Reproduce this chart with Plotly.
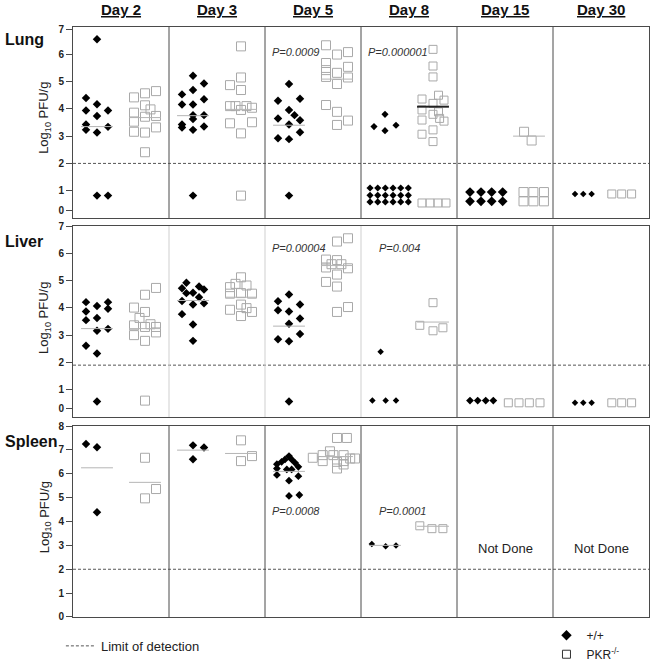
import plotly.graph_objects as go
from plotly.subplots import make_subplots

# ---------------- data ----------------
days = ["Day 2", "Day 3", "Day 5", "Day 8", "Day 15", "Day 30"]
organs = ["Lung", "Liver", "Spleen"]
genotypes = ["+/+", "PKR<sup>-/-</sup>"]

# log10 PFU/g, one list per day (Day 2 .. Day 30)
lung_wt_y = [
    [6.55, 4.40, 4.17, 3.94, 3.94, 3.74, 3.43, 3.23, 3.34, 3.13, 0.82, 0.82],
    [5.21, 4.53, 4.69, 4.93, 4.16, 4.16, 4.35, 3.77, 3.77, 3.43, 3.32, 3.63, 3.23, 3.35, 0.82],
    [4.91, 4.30, 4.37, 3.96, 3.65, 3.77, 3.58, 3.43, 3.14, 2.92, 2.89, 0.82],
    [3.80, 3.35, 3.20, 3.40,
     1.10, 1.10, 1.10, 1.10, 1.10, 1.10,
     0.83, 0.83, 0.83, 0.83, 0.83, 0.83,
     0.59, 0.59, 0.59, 0.59, 0.59, 0.59],
    [0.95, 0.95, 0.95, 0.95, 0.61, 0.61, 0.61, 0.61],
    [0.88, 0.88, 0.88],
]
# horizontal slot of each point inside its group (dot-plot spread)
lung_wt_slot = [
    [0, -1, 0, -1, 1, 0, -1, -1, 1, 0, 0, 1],
    [0, -1, 0, 1, -1, 0, 1, 0, 1, -1, -1, 0, 0, 1, 0],
    [0, -1, 1, 0, -1, 0.5, 1, 0, 1, -1, 0, 0],
    [0, -1, 0, 1,
     -1.36, -0.66, 0.03, 0.73, 1.43, 2.12,
     -1.36, -0.66, 0.03, 0.73, 1.43, 2.12,
     -1.36, -0.66, 0.03, 0.73, 1.43, 2.12],
    [-1, 0, 0.97, 1.97, -1, 0, 0.97, 1.97],
    [-0.18, 0.57, 1.33],
]
lung_ko_y = [
    [4.42, 4.57, 4.65, 4.13, 3.86, 3.98, 3.53, 3.71, 3.74, 3.16, 3.13, 3.32, 2.41],
    [6.29, 4.87, 5.15, 4.69, 4.10, 4.10, 4.10, 4.04, 3.96, 3.47, 3.51, 3.10, 0.82],
    [6.33, 5.99, 6.08, 5.68, 5.42, 5.17, 5.32, 4.91, 5.54, 5.15, 4.14, 3.89, 3.41, 3.57],
    [6.18, 5.57, 5.17, 4.36, 4.50, 4.32, 4.20, 3.96, 3.59, 3.80, 3.89, 3.65, 3.55, 3.07, 3.23, 2.80,
     0.55, 0.55, 0.55, 0.55],
    [3.16, 2.84, 0.95, 0.95, 0.95, 0.61, 0.61, 0.61],
    [0.88, 0.88, 0.88],
]
lung_ko_slot = [
    [-1, 0, 1, 0, -1, 0.5, -1, 0, 1, -1, 0, 1, 0],
    [0, -1, 0, 0, -1, -0.5, 0.5, 1, 0, -1, 1, 0, 0],
    [-1, 0, 1, -1, -1, -1, 0, 0, 1, 1, -1, 0, 0, 1],
    [0, 0, 0, -1, 0.5, 1, 0, -1, -1, 0, 0.5, 0.6, 1, -1, 0, 0,
     -1, -0.27, 0.45, 1.18],
    [-0.45, 0.24, -0.5, 0.4, 1.36, -0.5, 0.4, 1.36],
    [-1.2, -0.3, 0.6],
]
liver_wt_y = [
    [4.21, 4.07, 4.21, 3.87, 3.97, 3.55, 3.63, 3.16, 3.23, 2.61, 2.33, 0.57],
    [4.92, 4.72, 4.54, 4.55, 4.78, 4.67, 4.25, 4.12, 4.39, 4.17, 3.77, 3.39, 2.79],
    [4.49, 4.24, 4.12, 3.91, 3.87, 3.61, 3.42, 2.85, 2.78, 3.04, 0.57],
    [2.39, 0.60, 0.60, 0.60],
    [0.60, 0.60, 0.60, 0.60],
    [0.52, 0.52, 0.52],
]
liver_wt_slot = [
    [-1, 0, 1, -1, 1, -1, 0, 0, 1, -1, 0, 0],
    [-0.6, -1, -0.6, 0, 0.55, 1, -1, 0, 0.55, 1, -1, 0, 0],
    [0, -1, 1, -1, 0, 1, 0, -1, 0, 1, 0],
    [-0.4, -1.15, 0.06, 1.0],
    [-1, -0.3, 0.43, 1.12],
    [-0.18, 0.57, 1.33],
]
liver_ko_y = [
    [4.73, 4.48, 4.01, 3.85, 3.63, 3.36, 3.30, 3.40, 3.30, 3.00, 2.79, 3.10, 0.60],
    [5.12, 4.88, 4.82, 4.76, 4.52, 4.54, 4.52, 4.12, 3.93, 3.99, 3.85, 3.70],
    [6.55, 6.43, 5.77, 5.75, 5.48, 5.60, 5.60, 5.45, 5.22, 4.95, 4.78, 3.85, 4.03],
    [4.19, 3.36, 3.16, 3.27],
    [0.52, 0.52, 0.52, 0.52],
    [0.52, 0.52, 0.52],
]
liver_ko_slot = [
    [1, 0, -1, 0, -0.5, -1, 0, 0.5, 1, -1, 0, 1, 0],
    [0, -0.5, 0.5, -1, -1, 0, 1, 0, -1, 0.5, 1, 0],
    [1, 0, -1, 0, -1, -0.5, 0.4, 1, 0, -1, 0, 0, 1],
    [0, -1.2, 0, 0.9],
    [-1.88, -0.91, 0.03, 1.0],
    [-1.2, -0.3, 0.6],
]
spleen_wt_y = [
    [7.25, 7.11, 4.39],
    [7.19, 7.10, 6.61],
    [6.74, 6.60, 6.60, 6.50, 6.46, 6.40, 6.29, 6.22, 6.18, 6.18, 5.95, 5.90, 5.71, 5.07, 5.11],
    [3.06, 2.96, 2.99],
    [],
    [],
]
spleen_wt_slot = [
    [-1, 0, 0],
    [0, 1, 0],
    [0, -0.36, 0.24, -0.67, 0.55, -1.1, 0.85, -1.1, -0.2, 0.24, -1.1, 0.85, 0, 0, 0.94],
    [-1.2, 0.06, 1.0],
    [],
    [],
]
spleen_ko_y = [
    [6.67, 4.97, 5.36],
    [7.40, 6.53, 6.74],
    [6.67, 6.78, 6.53, 6.94, 6.78, 7.50, 7.50, 6.50, 6.22, 6.78, 6.53, 6.39, 6.64, 6.64],
    [3.82, 3.70, 3.70],
    [],
    [],
]
spleen_ko_slot = [
    [0, 0, 1],
    [0, 0, 1],
    [-2.2, -1.3, -1.3, -0.64, -0.33, 0, 0.9, 0, 0, 0.6, 0.6, 0.6, 1.2, 1.64],
    [-1.2, -0.1, 0.9],
    [],
    [],
]

# group mean lines (None = no line drawn)
lung_wt_mean = [3.35, 3.75, 3.40, None, None, None]
lung_ko_mean = [3.68, 3.98, 5.09, 4.08, 3.00, None]
liver_wt_mean = [3.24, 4.27, 3.33, None, None, None]
liver_ko_mean = [3.24, 4.39, 5.55, 3.48, None, None]
spleen_wt_mean = [6.25, 6.99, 6.10, 3.00, None, None]
spleen_ko_mean = [5.64, 6.85, 6.72, 3.80, None, None]

# limit of detection per organ
limit_of_detection = [2.0, 1.9, 2.0]

# P values per organ and day
lung_p = ["", "", "P=0.0009", "P=0.000001", "", ""]
liver_p = ["", "", "P=0.00004", "P=0.004", "", ""]
spleen_p = ["", "", "P=0.0008", "P=0.0001", "", ""]
spleen_not_done = ["", "", "", "", "Not Done", "Not Done"]

lung_ticks = [0, 1, 2, 3, 4, 5, 6, 7]
liver_ticks = [0, 1, 2, 3, 4, 5, 6, 7]
spleen_ticks = [0, 1, 2, 3, 4, 5, 6, 7, 8]

# ---------------- styling / layout ----------------
FONT = "Liberation Sans, Arial, sans-serif"
SLOT = 11 / 96.0
WT_CENTER, KO_CENTER = 0.25, 0.75
HALF_LINE = 1.45 * SLOT

organ_data = [
    (lung_wt_y, lung_wt_slot, lung_ko_y, lung_ko_slot, lung_wt_mean, lung_ko_mean, lung_p),
    (liver_wt_y, liver_wt_slot, liver_ko_y, liver_ko_slot, liver_wt_mean, liver_ko_mean, liver_p),
    (spleen_wt_y, spleen_wt_slot, spleen_ko_y, spleen_ko_slot, spleen_wt_mean, spleen_ko_mean, spleen_p),
]
organ_ticks = [lung_ticks, liver_ticks, spleen_ticks]
yranges = [[0, 7], [0, 7], [0, 8]]
# label placement nudges for the edge ticks (so they do not collide)
tick_nudge = [{0: 0.27, 7: 6.9}, {0: 0.3}, {}]
domains = [[0.6763, 1.0], [0.339, 0.6627], [0.0, 0.3237]]
wt_sizes = [[6.5, 6.5, 6.5, 5.5, 7.5, 5], [6.5, 6.5, 6.5, 5, 6, 5], [6.5, 6.5, 6, 5, 5, 5]]
ko_sizes = [[9, 9, 9, 8, 9, 8], [9, 9, 9, 8, 8, 8], [9, 9, 9, 8, 8, 8]]
p_x_off = [[0, 0, 0.05, 0.05, 0, 0], [0, 0, 0.05, 0.17, 0, 0], [0, 0, 0.05, 0.17, 0, 0]]
p_y = [6.1, 6.2, 4.46]
light_dividers = [[], [1, 2, 3], []]
BORDER = "#4a4a4a"
SQ_COLOR = "#a9a9a9"

fig = make_subplots(rows=3, cols=1)

for r, (wy, ws, ky, ks, wm, km, pv) in enumerate(organ_data):
    row = r + 1
    for i in range(len(days)):
        if wy[i]:
            fig.add_trace(go.Scatter(
                x=[i + WT_CENTER + s * SLOT for s in ws[i]], y=wy[i], mode="markers",
                marker=dict(symbol="diamond", size=wt_sizes[r][i], color="black",
                            line=dict(width=0)),
                showlegend=False, hoverinfo="y"), row=row, col=1)
        if ky[i]:
            fig.add_trace(go.Scatter(
                x=[i + KO_CENTER + s * SLOT for s in ks[i]], y=ky[i], mode="markers",
                marker=dict(symbol="square-open", size=ko_sizes[r][i], color=SQ_COLOR,
                            line=dict(width=1, color=SQ_COLOR)),
                showlegend=False, hoverinfo="y"), row=row, col=1)
        for center, m, is_ko in ((WT_CENTER, wm[i], False), (KO_CENTER, km[i], True)):
            if m is None:
                continue
            special = (r == 0 and i == 3 and is_ko)
            fig.add_trace(go.Scatter(
                x=[i + center - HALF_LINE, i + center + HALF_LINE], y=[m, m], mode="lines",
                line=dict(color="#222222" if special else "#b5b5b5", width=2 if special else 1),
                showlegend=False, hoverinfo="skip"), row=row, col=1)
        if pv[i]:
            fig.add_annotation(x=i + p_x_off[r][i], y=p_y[r], text="<i>%s</i>" % pv[i],
                               xanchor="left", yanchor="middle", showarrow=False,
                               font=dict(family=FONT, size=11, color="#333333"),
                               row=row, col=1)
    # limit of detection
    fig.add_trace(go.Scatter(
        x=[0, 6], y=[limit_of_detection[r]] * 2, mode="lines",
        line=dict(color="#555555", width=1, dash="3px,2px"),
        name="Limit of detection", legend="legend", showlegend=(r == 0),
        hoverinfo="skip"), row=row, col=1)
    # column dividers
    yref = "y domain" if r == 0 else "y%d domain" % row
    xref = "x" if r == 0 else "x%d" % row
    for d in range(1, 6):
        fig.add_shape(type="line", x0=d, x1=d, y0=0, y1=1, xref=xref, yref=yref,
                      line=dict(color="#cfcfcf" if d in light_dividers[r] else BORDER, width=1),
                      layer="above")
    tv = [tick_nudge[r].get(t, t) for t in organ_ticks[r]]
    fig.update_yaxes(range=yranges[r], domain=domains[r], tickvals=tv,
                     ticktext=[str(t) for t in organ_ticks[r]],
                     ticks="outside", ticklen=6, tickcolor=BORDER, tickwidth=1,
                     tickfont=dict(family=FONT, size=10, color="#222222", weight="bold"),
                     showline=True, mirror=True, linecolor=BORDER, linewidth=1,
                     showgrid=False, zeroline=False, row=row, col=1)
    fig.update_xaxes(range=[0, 6], domain=[0, 1], showticklabels=False, ticks="",
                     showline=True, mirror=True, linecolor=BORDER, linewidth=1,
                     showgrid=False, zeroline=False, row=row, col=1)

for i, d in enumerate(spleen_not_done):
    if d:
        fig.add_annotation(x=i + 0.5, y=2.875, text=d, showarrow=False,
                           font=dict(family=FONT, size=13, color="#222222"), row=3, col=1)

# day headers
for i, d in enumerate(days):
    fig.add_annotation(x=i + 0.5, xref="x", xanchor="center", y=1.029, yref="paper",
                       yanchor="middle", text="<b><u>%s</u></b>" % d, showarrow=False,
                       font=dict(family=FONT, size=15, color="#111111"))

# organ labels and axis titles
organ_label_y = [0.978, 0.637, 0.298]
title_y = [0.846, 0.507, 0.169]
for r, o in enumerate(organs):
    fig.add_annotation(x=-0.1215, xref="paper", xanchor="left", y=organ_label_y[r], yref="paper",
                       yanchor="middle", text="<b>%s</b>" % o, showarrow=False,
                       font=dict(family=FONT, size=16, color="#111111"))
    fig.add_annotation(x=-0.0486, xref="paper", xanchor="center", y=title_y[r], yref="paper",
                       yanchor="middle", textangle=-90,
                       text="Log<sub>10</sub> PFU/g", showarrow=False,
                       font=dict(family=FONT, size=13, color="#222222"))

# genotype legend entries
fig.add_trace(go.Scatter(x=[None], y=[None], mode="markers", name=genotypes[0],
                         marker=dict(symbol="diamond", size=8, color="black"),
                         legend="legend2"), row=1, col=1)
fig.add_trace(go.Scatter(x=[None], y=[None], mode="markers", name=genotypes[1],
                         marker=dict(symbol="square-open", size=8, color="#333333",
                                     line=dict(width=1, color="#333333")),
                         legend="legend2"), row=1, col=1)

fig.update_layout(
    width=653, height=666,
    margin=dict(l=73, r=4, t=27, b=49, autoexpand=False),
    plot_bgcolor="white", paper_bgcolor="white",
    font=dict(family=FONT, color="#222222"),
    showlegend=True,
    legend=dict(x=-0.021, y=-0.049, xanchor="left", yanchor="middle",
                font=dict(family=FONT, size=13), bgcolor="rgba(0,0,0,0)",
                itemwidth=30, tracegroupgap=0),
    legend2=dict(x=0.822, y=-0.047, xanchor="left", yanchor="middle",
                 font=dict(family=FONT, size=12), bgcolor="rgba(0,0,0,0)",
                 itemwidth=30, tracegroupgap=0),
)

# the page's default 8px body margin would shift the figure; remove it
fig.write_html("out.html", config={"displayModeBar": False},
               post_script="document.body.style.margin='0';")
